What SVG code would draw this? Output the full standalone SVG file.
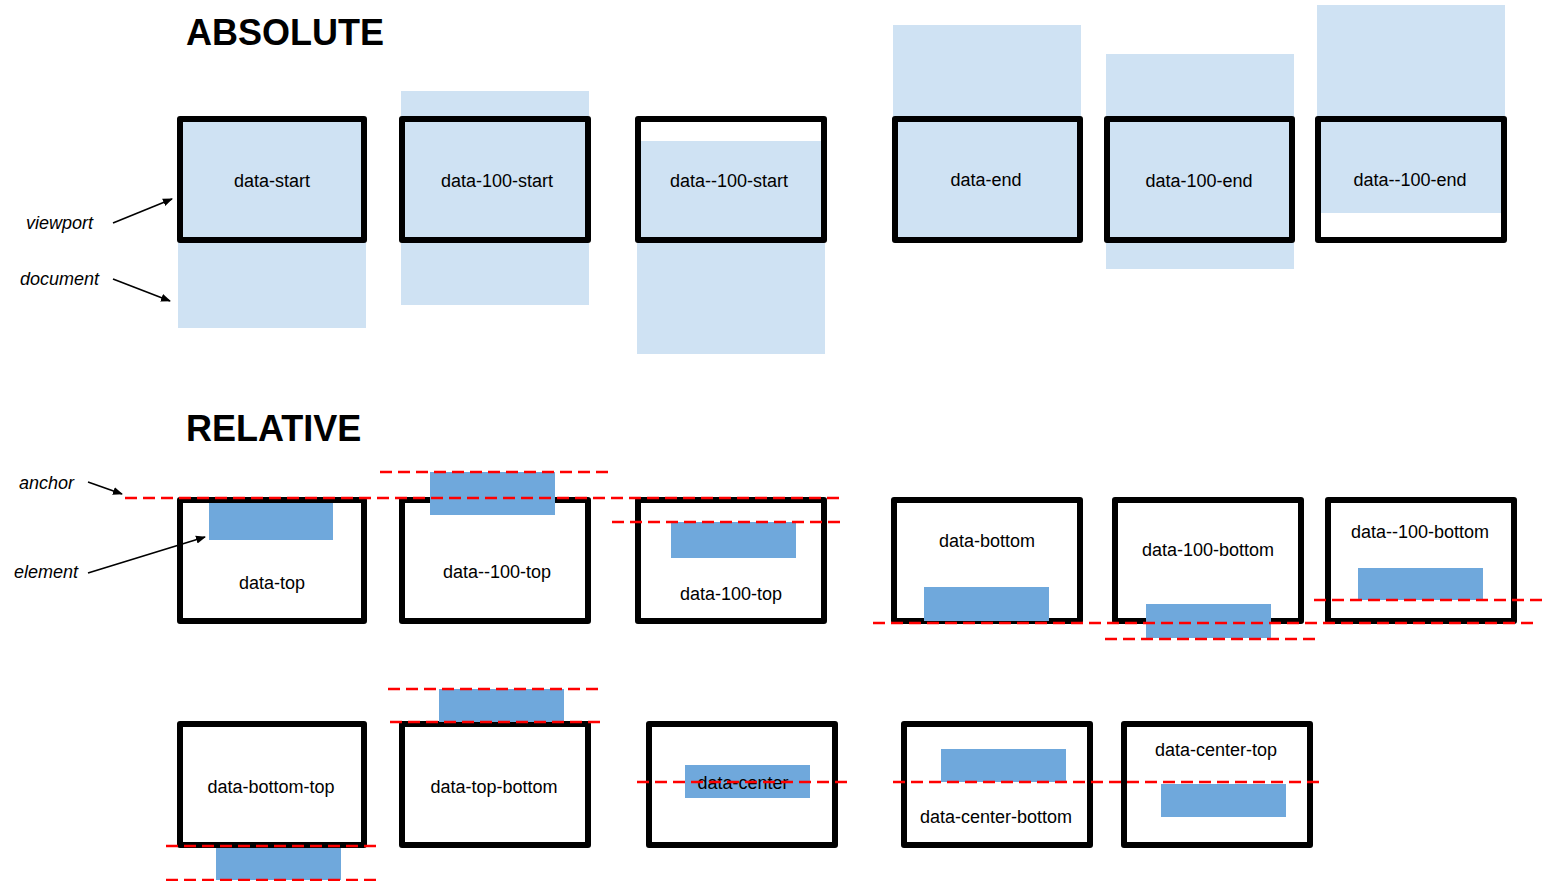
<svg xmlns="http://www.w3.org/2000/svg" width="1543" height="881" viewBox="0 0 1543 881">
<defs>
<marker id="ah" viewBox="0 0 10 10" refX="9" refY="5" markerWidth="10" markerHeight="10" markerUnits="userSpaceOnUse" orient="auto">
<path d="M0,1 L10,5 L0,9 Z" fill="#000"/>
</marker>
</defs>
<style>
.doc{fill:#cfe2f3}
.el{fill:#6fa8dc}
.vp{fill:none;stroke:#000;stroke-width:6;stroke-linejoin:round}
.lbl{font-family:"Liberation Sans",Arial,sans-serif;font-size:18px;fill:#000;text-anchor:middle;dominant-baseline:central}
.it{font-family:"Liberation Sans",Arial,sans-serif;font-size:18px;font-style:italic;fill:#000}
.title{font-family:"Liberation Sans",Arial,sans-serif;font-size:36px;font-weight:bold;fill:#000}
.guide{stroke:#ff0000;stroke-width:2.4;stroke-dasharray:12,6;fill:none}
.arr{stroke:#000;stroke-width:1.6;fill:none;marker-end:url(#ah)}
</style>
<rect width="1543" height="881" fill="#fff"/>
<text class="title" x="186" y="45">ABSOLUTE</text>
<text class="title" x="186" y="441">RELATIVE</text>
<text class="it" x="26" y="229">viewport</text>
<text class="it" x="20" y="285">document</text>
<text class="it" x="19" y="489">anchor</text>
<text class="it" x="14" y="578">element</text>

<g id="data-start">
<rect class="doc" x="178" y="119" width="188" height="209"/>
<rect class="vp" x="180" y="119" width="184" height="121"/>
<text class="lbl" x="272" y="181">data-start</text>
</g>
<g id="data-100-start">
<rect class="doc" x="401" y="91" width="188" height="214"/>
<rect class="vp" x="402" y="119" width="186" height="121"/>
<text class="lbl" x="497" y="181">data-100-start</text>
</g>
<g id="data--100-start">
<rect class="doc" x="637" y="141" width="188" height="213"/>
<rect class="vp" x="638" y="119" width="186" height="121"/>
<text class="lbl" x="729" y="181">data--100-start</text>
</g>
<g id="data-end">
<rect class="doc" x="893" y="25" width="188" height="216"/>
<rect class="vp" x="895" y="119" width="185" height="121"/>
<text class="lbl" x="986" y="180">data-end</text>
</g>
<g id="data-100-end">
<rect class="doc" x="1106" y="54" width="188" height="215"/>
<rect class="vp" x="1107" y="119" width="185" height="121"/>
<text class="lbl" x="1199" y="181">data-100-end</text>
</g>
<g id="data--100-end">
<rect class="doc" x="1317" y="5" width="188" height="208"/>
<rect class="vp" x="1318" y="119" width="186" height="121"/>
<text class="lbl" x="1410" y="180">data--100-end</text>
</g>

<g id="data-top">
<rect class="vp" x="180" y="500" width="184" height="121"/>
<rect class="el" x="209" y="503" width="124" height="37"/>
<text class="lbl" x="272" y="583">data-top</text>
</g>
<g id="data--100-top">
<rect class="vp" x="402" y="500" width="186" height="121"/>
<rect class="el" x="430" y="472" width="125" height="43"/>
<text class="lbl" x="497" y="572">data--100-top</text>
</g>
<g id="data-100-top">
<rect class="vp" x="638" y="500" width="186" height="121"/>
<rect class="el" x="671" y="522" width="125" height="36"/>
<text class="lbl" x="731" y="594">data-100-top</text>
</g>
<g id="data-bottom">
<rect class="vp" x="894" y="500" width="186" height="121"/>
<rect class="el" x="924" y="587" width="125" height="34"/>
<text class="lbl" x="987" y="541">data-bottom</text>
</g>
<g id="data-100-bottom">
<rect class="vp" x="1115" y="500" width="186" height="121"/>
<rect class="el" x="1146" y="604" width="125" height="34"/>
<text class="lbl" x="1208" y="550">data-100-bottom</text>
</g>
<g id="data--100-bottom">
<rect class="vp" x="1328" y="500" width="186" height="121"/>
<rect class="el" x="1358" y="568" width="125" height="32"/>
<text class="lbl" x="1420" y="532">data--100-bottom</text>
</g>

<g id="data-bottom-top">
<rect class="vp" x="180" y="724" width="184" height="121"/>
<rect class="el" x="216" y="848" width="125" height="32"/>
<text class="lbl" x="271" y="787">data-bottom-top</text>
</g>
<g id="data-top-bottom">
<rect class="vp" x="402" y="724" width="186" height="121"/>
<rect class="el" x="439" y="689" width="125" height="33"/>
<text class="lbl" x="494" y="787">data-top-bottom</text>
</g>
<g id="data-center">
<rect class="vp" x="649" y="724" width="186" height="121"/>
<rect class="el" x="685" y="765" width="125" height="33"/>
<text class="lbl" x="743" y="783">data-center</text>
</g>
<g id="data-center-bottom">
<rect class="vp" x="904" y="724" width="186" height="121"/>
<rect class="el" x="941" y="749" width="125" height="33"/>
<text class="lbl" x="996" y="817">data-center-bottom</text>
</g>
<g id="data-center-top">
<rect class="vp" x="1124" y="724" width="186" height="121"/>
<rect class="el" x="1161" y="784" width="125" height="33"/>
<text class="lbl" x="1216" y="750">data-center-top</text>
</g>

<g id="guides">
<line class="guide" x1="125" y1="498" x2="843" y2="498"/>
<line class="guide" x1="380" y1="472" x2="612" y2="472"/>
<line class="guide" x1="612" y1="522" x2="843" y2="522"/>
<line class="guide" x1="873" y1="623" x2="1537" y2="623"/>
<line class="guide" x1="1105" y1="639" x2="1316" y2="639"/>
<line class="guide" x1="1314" y1="600" x2="1543" y2="600"/>
<line class="guide" x1="166" y1="846" x2="376" y2="846"/>
<line class="guide" x1="166" y1="880" x2="376" y2="880"/>
<line class="guide" x1="388" y1="689" x2="600" y2="689"/>
<line class="guide" x1="390" y1="722" x2="600" y2="722"/>
<line class="guide" x1="637" y1="782" x2="848" y2="782"/>
<line class="guide" x1="893" y1="782" x2="1323" y2="782"/>
</g>

<g id="connectors">
<line class="arr" x1="113" y1="223" x2="172" y2="199"/>
<line class="arr" x1="113" y1="279" x2="170" y2="301"/>
<line class="arr" x1="88" y1="482" x2="122" y2="494"/>
<line class="arr" x1="88" y1="573" x2="205" y2="537"/>
</g>
</svg>
